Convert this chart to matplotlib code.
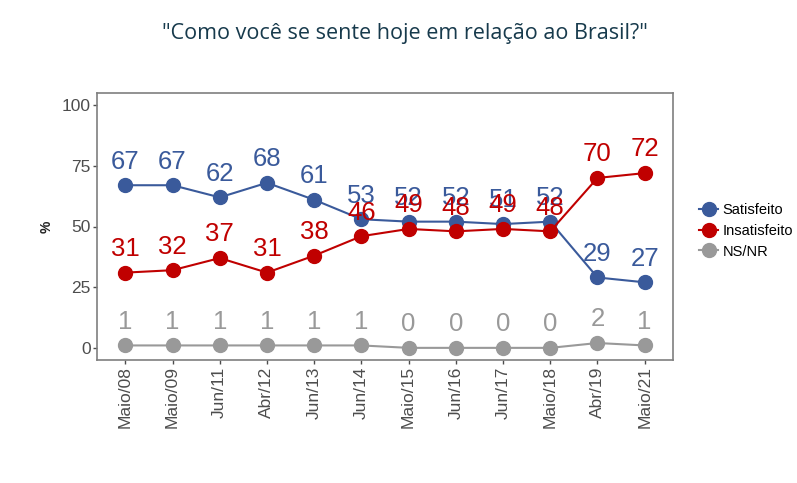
import matplotlib
matplotlib.use("Agg")
import matplotlib.pyplot as plt
from matplotlib.lines import Line2D

categories = ["Maio/08", "Maio/09", "Jun/11", "Abr/12", "Jun/13", "Jun/14",
              "Maio/15", "Jun/16", "Jun/17", "Maio/18", "Abr/19", "Maio/21"]
satisfeito = [67, 67, 62, 68, 61, 53, 52, 52, 51, 52, 29, 27]
insatisfeito = [31, 32, 37, 31, 38, 46, 49, 48, 49, 48, 70, 72]
nsnr = [1, 1, 1, 1, 1, 1, 0, 0, 0, 0, 2, 1]
series_names = ["Satisfeito", "Insatisfeito", "NS/NR"]
colors = ["#3a5a9b", "#c00000", "#999999"]
yticks = [0, 25, 50, 75, 100]

plt.rcParams['font.family'] = ['Liberation Sans', 'DejaVu Sans']

fig = plt.figure(figsize=(7.97, 4.83), dpi=100)
ax = fig.add_axes([97/797, 1-360/483, (673-97)/797, (360-93)/483])

x = list(range(len(categories)))
all_series = [satisfeito, insatisfeito, nsnr]
order = [2, 0, 1]
for i in order:
    vals = all_series[i]
    ax.plot(x, vals, color=colors[i], lw=1.5, marker='o', markersize=10,
            zorder=2 + i * 0.1)
for i in order:
    vals = all_series[i]
    for xi, v in zip(x, vals):
        ax.annotate(str(v), (xi, v), xytext=(0, 17), textcoords='offset points',
                    ha='center', va='center', fontsize=18.5, color=colors[i],
                    zorder=5)

ax.set_xlim(-0.6, len(categories) - 1 + 0.6)
ax.set_ylim(-5, 105)
ax.set_yticks(yticks)
ax.set_yticklabels([str(t) for t in yticks], fontsize=12.5)
ax.set_xticks(x)
ax.set_xticklabels(categories, rotation=90, fontsize=12.5)
ax.tick_params(axis='both', colors="#4d4d4d", length=3, width=1, pad=1.5)
for lab in ax.get_xticklabels() + ax.get_yticklabels():
    lab.set_color("#4d4d4d")
for s in ax.spines.values():
    s.set_color("#7f7f7f")
    s.set_linewidth(1.2)
ax.set_ylabel("%", fontsize=10, fontweight='bold', color='#222222', labelpad=6)

handles = [Line2D([0], [0], color=c, lw=1.5, marker='o', markersize=10)
           for c in colors]
fig.legend(handles, series_names, loc='center left',
           bbox_to_anchor=(686/797, 1-231/483), frameon=False, fontsize=10.5,
           handlelength=1.3, handletextpad=0.3, labelspacing=0.45)

fig.text(405/797, 1-33/483, "\"Como você se sente hoje em relação ao Brasil?\"",
         ha='center', va='center', fontsize=15.5, color="#173a4c",
         family=['Open Sans', 'DejaVu Sans'])

fig.savefig("out.png", dpi=100, facecolor='white')
